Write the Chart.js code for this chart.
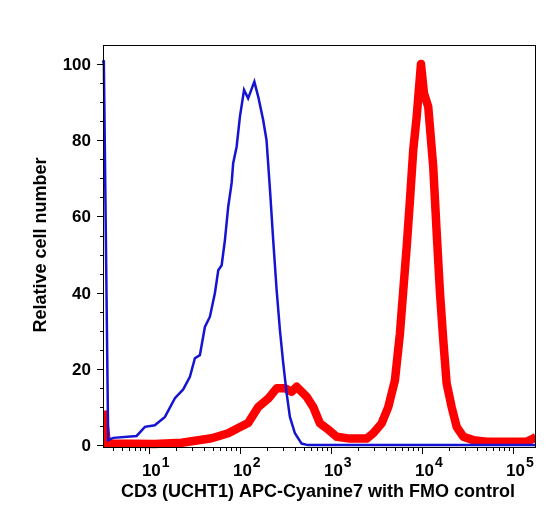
<!DOCTYPE html>
<html>
<head>
<meta charset="utf-8">
<script src="https://cdn.jsdelivr.net/npm/chart.js@4/dist/chart.umd.min.js"></script>
<style>
  body { margin: 0; background: #fff; }
</style>
</head>
<body>
<canvas id="grafico" width="556" height="518"></canvas>
<script>
// FMO control (blue): intensity / relative count
const fmoX = [3.13, 3.2, 3.57, 4.06, 7.33, 9.04, 11.6, 15.0, 19.3, 23.8, 28.2, 32.0, 36.3, 41.2, 46.8, 53.1, 57.8, 63.0, 68.4, 74.3, 81.1, 84.3, 92.0, 100, 111, 123, 144, 159, 180, 196, 214, 232, 253, 275, 299, 326, 354, 402, 476, 558, 179000];
const fmoY = [101, 100, 1.3, 1.9, 2.4, 4.8, 5.2, 7.4, 12.3, 14.6, 17.9, 22.8, 23.6, 31, 33.7, 39.9, 45.9, 47.2, 53.8, 62.5, 68.8, 74, 78.3, 86.2, 93.2, 91, 95.4, 91.4, 85.3, 80, 66.9, 53.8, 40.7, 30.2, 21.5, 13.6, 7.4, 3.1, 0.4, 0, 0];

// CD3 stained (red)
const cd3X = [3.13, 3.46, 11.6, 22.9, 48.9, 74.3, 95.7, 123, 159, 205, 253, 313, 370, 420, 541, 638, 757, 897, 1156, 1618, 2466, 2917, 3606, 4266, 5047, 5728, 6237, 6792, 7379, 8017, 8750, 9750, 10520, 11720, 13300, 14520, 15780, 17140, 18660, 21180, 24040, 28440, 36640, 51400, 141600, 167100, 179000];
const cd3Y = [9, 0.4, 0.3, 0.6, 1.8, 3.1, 4.5, 5.8, 10, 12.2, 14.9, 14.9, 14.0, 15.3, 12.7, 10, 5.7, 4.4, 2.2, 1.7, 1.7, 3.1, 5.7, 10, 17, 29.3, 40.7, 52, 64.3, 77.4, 86.2, 100, 92.3, 88.8, 73, 55.6, 39.9, 27.6, 16.2, 10, 4.8, 2.2, 1.3, 0.9, 0.9, 1.7, 2.2];

const xMajor = [10, 100, 1000, 10000, 100000];
const xMajorExp = ["1", "2", "3", "4", "5"];
const yMajor = [0, 20, 40, 60, 80, 100];

const xTitle = "CD3 (UCHT1) APC-Cyanine7 with FMO control";
const yTitle = "Relative cell number";

const FONT = '"Liberation Sans", Arial, sans-serif';

function pontos(xs, ys) {
  return xs.map((x, i) => ({ x: x, y: ys[i] }));
}

// eixos, ticks e títulos desenhados a partir das escalas do Chart.js
const eixos = {
  id: "eixos",
  afterDraw(chart) {
    const ctx = chart.ctx;
    const area = chart.chartArea;
    const sx = chart.scales.x;
    const sy = chart.scales.y;

    ctx.save();
    ctx.strokeStyle = "#000";
    ctx.lineWidth = 1;
    ctx.strokeRect(area.left + 0.5, area.top + 0.5, area.right - area.left - 1, area.bottom - area.top);

    ctx.beginPath();
    // x: ticks menores e maiores
    for (let d = 0; d <= 5; d++) {
      for (let m = 1; m <= 9; m++) {
        const v = m * Math.pow(10, d);
        if (v < sx.min || v > sx.max) continue;
        const px = Math.round(sx.getPixelForValue(v)) + 0.5;
        const len = m === 1 ? 7 : 4;
        ctx.moveTo(px, area.bottom);
        ctx.lineTo(px, area.bottom + len);
      }
    }
    // y
    for (let v = 0; v <= 100; v += 5) {
      const py = Math.round(sy.getPixelForValue(v)) + 0.5;
      const len = v % 20 === 0 ? 6 : 3;
      ctx.moveTo(area.left, py);
      ctx.lineTo(area.left - len, py);
    }
    ctx.stroke();

    ctx.fillStyle = "#000";
    ctx.textBaseline = "alphabetic";

    // rótulos y
    ctx.font = "bold 17px " + FONT;
    ctx.textAlign = "right";
    yMajor.forEach((v) => {
      ctx.fillText(String(v), area.left - 12, sy.getPixelForValue(v) + 6);
    });

    // rótulos x: 10 com expoente
    ctx.textAlign = "left";
    xMajor.forEach((v, i) => {
      const px = sx.getPixelForValue(v);
      ctx.font = "bold 17px " + FONT;
      ctx.fillText("10", px - 7, 476);
      const w = ctx.measureText("10").width;
      ctx.font = "bold 14px " + FONT;
      ctx.fillText(xMajorExp[i], px - 7 + w + 1, 467);
    });

    // títulos
    ctx.font = "bold 18px " + FONT;
    ctx.textAlign = "center";
    ctx.fillText(xTitle, 318, 497);

    ctx.translate(46, 245);
    ctx.rotate(-Math.PI / 2);
    ctx.fillText(yTitle, 0, 0);
    ctx.restore();
  },
};

new Chart(document.getElementById("grafico"), {
  type: "line",
  data: {
    datasets: [
      {
        label: "FMO",
        data: pontos(fmoX, fmoY),
        borderColor: "rgb(20, 20, 210)",
        borderWidth: 2.5,
        pointRadius: 0,
        tension: 0,
        clip: { left: 1, top: 10, right: 1, bottom: 3 },
      },
      {
        label: "CD3",
        data: pontos(cd3X, cd3Y),
        borderColor: "rgb(255, 0, 0)",
        borderWidth: 8.5,
        borderJoinStyle: "round",
        pointRadius: 0,
        tension: 0,
        clip: { left: 0, top: 10, right: 0, bottom: 4 },
      },
    ],
  },
  options: {
    responsive: false,
    animation: false,
    layout: { padding: { left: 103, top: 45, right: 20, bottom: 71 } },
    plugins: { legend: { display: false }, tooltip: { enabled: false } },
    scales: {
      x: { type: "logarithmic", min: 3.13, max: 179000, display: false },
      y: { type: "linear", min: -0.5, max: 105, display: false },
    },
  },
  plugins: [eixos],
});
</script>
</body>
</html>
